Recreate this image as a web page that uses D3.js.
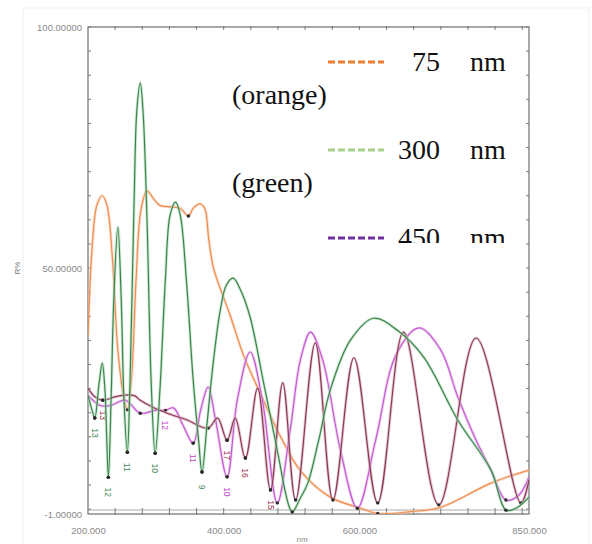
<!DOCTYPE html>
<html>
<head>
<meta charset="utf-8">
<script src="https://cdn.jsdelivr.net/npm/d3@7"></script>
<style>
  body { margin: 0; background: #fff; }
  svg { display: block; }
</style>
</head>
<body>
<div id="chart"></div>
<script>
// reflectance spectra (nm, R%)
var orangeNm = [200, 206, 213, 221, 228, 236, 244, 253, 258, 264, 271, 278, 287, 296, 306, 321, 336, 348, 355, 365, 372, 378, 385, 410, 429, 454, 484, 513, 557, 602, 627, 676, 720, 794, 850];
var orangeR  = [36, 54, 63, 65, 63, 52, 33, 23, 20.6, 27, 48, 62, 66, 64.5, 63, 62.7, 62.4, 60.8, 62.4, 63.3, 62.4, 56, 50, 40, 32, 24, 15, 8, 2.5, 0.2, -0.9, -0.5, 0.4, 5.4, 8.1];

var greenNm = [200, 206, 210, 216, 221, 225, 230, 234, 238, 244, 249, 253, 258, 262, 268, 272, 277, 281, 287, 293, 299, 306, 314, 321, 329, 336, 345, 355, 363, 368, 376, 385, 395, 404, 414, 425, 439, 459, 479, 495, 501, 513, 524, 540, 557, 587, 621, 656, 695, 745, 794, 816, 831, 850];
var greenR  = [23.6, 20.5, 18.9, 25.7, 30.3, 24.7, 6.6, 22.6, 43.4, 58.5, 43.4, 22.6, 11.8, 26.8, 64.1, 82.8, 88.4, 82.8, 60.0, 26.8, 11.6, 24.7, 47.5, 61.0, 63.7, 61.0, 47.5, 26.8, 14.3, 7.7, 18.5, 30.9, 41.3, 46.5, 47.9, 45.4, 39.8, 26.1, 12.2, 1.2, -0.6, 2.3, 5.4, 14.3, 24.7, 35.1, 39.6, 37.1, 31.5, 18.5, 8.1, -0.2, 0.2, 2.5];

var magentaNm = [200, 218, 233, 255, 277, 299, 314, 326, 340, 355, 366, 377, 388, 405, 420, 439, 457, 479, 498, 513, 528, 546, 572, 597, 624, 654, 688, 720, 745, 772, 794, 816, 835, 850];
var magentaR  = [23.6, 21.5, 21.5, 22.6, 19.9, 20.5, 20.5, 21.0, 17.4, 13.7, 20.5, 25.3, 18.5, 6.7, 22.6, 32.6, 22.6, 1.3, 16.4, 30.9, 36.7, 30.9, 12.3, 0.2, 14.3, 32.0, 37.6, 33.0, 23.3, 14.3, 8.1, 1.9, 2.9, 6.7];

var maroonNm = [200, 210, 222, 240, 259, 269, 277, 295, 317, 346, 377, 391, 405, 417, 432, 450, 469, 487, 506, 535, 561, 592, 627, 665, 717, 772, 838, 850];
var maroonR  = [25.1, 23.3, 22.6, 23.3, 23.7, 23.5, 22.6, 21.2, 19.9, 18.5, 16.8, 18.9, 14.3, 18.9, 10.6, 25.1, 4.0, 26.2, 1.9, 34.5, 1.9, 31.4, 1.3, 36.7, 0.9, 35.5, 1.3, 6.1];

// fringe order labels at marked minima
var greenOrders   = [[210, "13"], [230, "12"], [258, "11"], [299, "10"], [368, "9"]];
var magentaOrders = [[314, "12"], [355, "11"], [405, "10"]];
var maroonOrders  = [[222, "13"], [405, "17"], [432, "16"], [469, "15"]];

var xTicks = [200, 400, 600, 850];
var xTickLabels = ["200.000", "400.000", "600.000", "850.000"];
var yTicks = [100, 50, -1];
var yTickLabels = ["100.00000", "50.00000", "-1.00000"];

var legendItems = [
  { num: "75", name: "(orange)", color: "#ed7d31" },
  { num: "300", name: "(green)", color: "#a9d18e" },
  { num: "450", name: "(purple)", color: "#7030a0" }
];

var W = 592, H = 544;
var mLeft = 88, mRight = 529, mTop = 27, mBottom = 514;

var x = d3.scaleLinear().domain([200, 850]).range([mLeft, mRight]);
var y = d3.scaleLinear().domain([-1, 100]).range([mBottom, mTop]);

var svg = d3.select("#chart").append("svg")
    .attr("width", W)
    .attr("height", H);

// faint scan frame
svg.append("rect")
    .attr("x", 23).attr("y", 8)
    .attr("width", 566).attr("height", 540)
    .attr("fill", "none")
    .attr("stroke", "#f0f0f0");

svg.append("defs").append("clipPath").attr("id", "plot")
  .append("rect")
    .attr("x", mLeft).attr("y", mTop)
    .attr("width", mRight - mLeft).attr("height", mBottom - mTop);

// minor ticks
var minorY = d3.range(0, 101, 5);
var minorX = d3.range(240, 850, 40);
var axisColor = "#7a7a7a";

var frame = svg.append("g");
frame.append("rect")
    .attr("x", mLeft).attr("y", mTop)
    .attr("width", mRight - mLeft).attr("height", mBottom - mTop)
    .attr("fill", "none")
    .attr("stroke", axisColor)
    .attr("stroke-width", 1.3);
frame.append("line")
    .attr("x1", mLeft).attr("x2", mRight)
    .attr("y1", mBottom - 4).attr("y2", mBottom - 4)
    .attr("stroke", "#aaa");

frame.selectAll(".ly").data(minorY).enter().append("line")
    .attr("x1", mLeft).attr("x2", mLeft + 3)
    .attr("y1", function(d) { return y(d); }).attr("y2", function(d) { return y(d); })
    .attr("stroke", axisColor);
frame.selectAll(".ry").data(minorY).enter().append("line")
    .attr("x1", mRight - 3).attr("x2", mRight)
    .attr("y1", function(d) { return y(d); }).attr("y2", function(d) { return y(d); })
    .attr("stroke", axisColor);
frame.selectAll(".tx").data(minorX).enter().append("line")
    .attr("x1", function(d) { return x(d); }).attr("x2", function(d) { return x(d); })
    .attr("y1", mTop - 1).attr("y2", mTop + 3)
    .attr("stroke", axisColor);
frame.selectAll(".bx").data(minorX).enter().append("line")
    .attr("x1", function(d) { return x(d); }).attr("x2", function(d) { return x(d); })
    .attr("y1", mBottom - 6).attr("y2", mBottom + 1)
    .attr("stroke", axisColor);

// axis labels
var yAxis = d3.axisLeft(y)
    .tickValues(yTicks)
    .tickSize(0)
    .tickPadding(6)
    .tickFormat(function(d, i) { return yTickLabels[i]; });
svg.append("g")
    .attr("transform", "translate(" + mLeft + ",0)")
    .call(yAxis)
    .call(function(g) { g.select(".domain").remove(); })
    .selectAll("text")
    .attr("font-family", "Arial, 'Liberation Sans', sans-serif")
    .attr("font-size", 9.5)
    .attr("fill", "#888");

var xAxis = d3.axisBottom(x)
    .tickValues(xTicks)
    .tickSize(0)
    .tickPadding(13)
    .tickFormat(function(d, i) { return xTickLabels[i]; });
svg.append("g")
    .attr("transform", "translate(0," + mBottom + ")")
    .call(xAxis)
    .call(function(g) { g.select(".domain").remove(); })
    .selectAll("text")
    .attr("font-family", "Arial, 'Liberation Sans', sans-serif")
    .attr("font-size", 9.5)
    .attr("fill", "#888");

svg.append("text")
    .attr("transform", "translate(20,268) rotate(-90)")
    .attr("text-anchor", "middle")
    .attr("font-family", "Arial, sans-serif")
    .attr("font-size", 8)
    .attr("fill", "#777")
    .text("R%");
svg.append("text")
    .attr("x", 302).attr("y", 542)
    .attr("text-anchor", "middle")
    .attr("font-family", "Arial, sans-serif")
    .attr("font-size", 8)
    .attr("fill", "#888")
    .text("nm");

// curves
var line = d3.line()
    .x(function(d) { return x(d[0]); })
    .y(function(d) { return y(d[1]); })
    .curve(d3.curveCatmullRom.alpha(0.5));

function pairs(nm, r) { return nm.map(function(d, i) { return [d, r[i]]; }); }

var series = [
  { pts: pairs(orangeNm, orangeR), color: "#ef8d52", halo: "#f8c9a8", orders: [], lc: "#ef8d52" },
  { pts: pairs(magentaNm, magentaR), color: "#c45ccf", halo: "#e5b3ea", orders: magentaOrders, lc: "#c040c8" },
  { pts: pairs(maroonNm, maroonR), color: "#8c3a58", halo: "#d3a9b8", orders: maroonOrders, lc: "#a0304a" },
  { pts: pairs(greenNm, greenR), color: "#3f8150", halo: "#a9dcb2", orders: greenOrders, lc: "#3f8a55" }
];

var plot = svg.append("g").attr("clip-path", "url(#plot)");

series.forEach(function(s) {
  plot.append("path")
      .datum(s.pts)
      .attr("fill", "none")
      .attr("stroke", s.halo)
      .attr("stroke-width", 3)
      .attr("stroke-opacity", 0.6)
      .attr("d", line);
  plot.append("path")
      .datum(s.pts)
      .attr("fill", "none")
      .attr("stroke", s.color)
      .attr("stroke-width", 1.2)
      .attr("d", line);

  // markers at local minima
  var mins = s.pts.filter(function(d, i) {
    return i > 0 && i < s.pts.length - 1 && d[1] < s.pts[i - 1][1] && d[1] < s.pts[i + 1][1];
  });
  plot.selectAll(null).data(mins).enter().append("circle")
      .attr("cx", function(d) { return x(d[0]); })
      .attr("cy", function(d) { return y(d[1]); })
      .attr("r", 1.7)
      .attr("fill", "#2a2a2a");

  var lookup = {};
  s.pts.forEach(function(d) { lookup[d[0]] = d[1]; });
  plot.selectAll(null).data(s.orders).enter().append("circle")
      .attr("cx", function(d) { return x(d[0]); })
      .attr("cy", function(d) { return y(lookup[d[0]]); })
      .attr("r", 1.7)
      .attr("fill", "#2a2a2a");
  plot.selectAll(null).data(s.orders).enter().append("text")
      .attr("transform", function(d) {
        return "translate(" + x(d[0]) + "," + (y(lookup[d[0]]) + 15) + ") rotate(90)";
      })
      .attr("text-anchor", "middle")
      .attr("dy", "0.35em")
      .attr("font-family", "Arial, sans-serif")
      .attr("font-size", 8.5)
      .attr("fill", s.lc)
      .text(function(d) { return d[1]; });
});

// legend (text box, clipped at the bottom like the original)
svg.select("defs").append("clipPath").attr("id", "legclip")
  .append("rect")
    .attr("x", 220).attr("y", 30)
    .attr("width", 300).attr("height", 213);

var legend = svg.append("g")
    .attr("clip-path", "url(#legclip)")
    .attr("font-family", "'Liberation Serif', 'Times New Roman', serif")
    .attr("font-size", 28)
    .attr("fill", "#111");

var rowY = [71, 159, 247];
legendItems.forEach(function(d, i) {
  var by = rowY[i];
  legend.append("line")
      .attr("x1", 328).attr("x2", 384)
      .attr("y1", by - 9).attr("y2", by - 9)
      .attr("stroke", d.color)
      .attr("stroke-width", 3)
      .attr("stroke-dasharray", "7,3");
  legend.append("text")
      .attr("x", 440).attr("y", by)
      .attr("text-anchor", "end")
      .text(d.num);
  legend.append("text")
      .attr("x", 470).attr("y", by)
      .text("nm");
  legend.append("text")
      .attr("x", 232).attr("y", by + 33)
      .text(d.name);
});
</script>
</body>
</html>
